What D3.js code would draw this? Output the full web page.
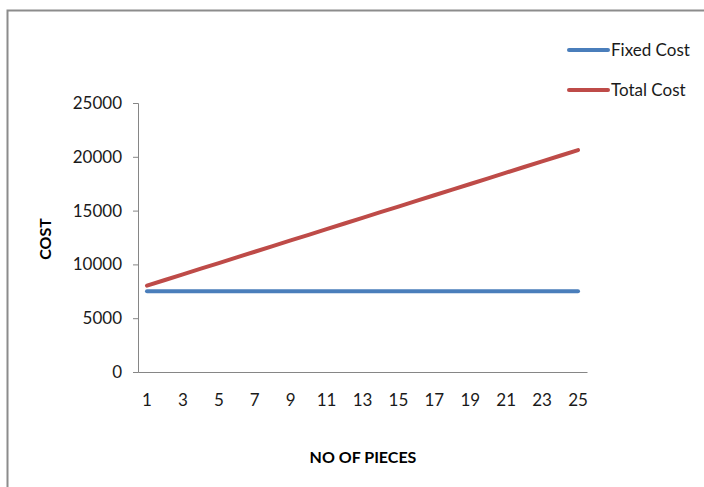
<!DOCTYPE html>
<html>
<head>
<meta charset="utf-8">
<script src="https://cdn.jsdelivr.net/npm/d3@7"></script>
<style>
  html, body { margin: 0; padding: 0; background: #fff; }
  svg { display: block; }
  text { font-family: Lato, "Open Sans", sans-serif; }
</style>
</head>
<body>
<svg id="chart" width="704" height="487"></svg>
<script>
// Number of pieces produced (category axis)
const pieces = d3.range(1, 26);
// Fixed cost stays flat over all quantities
const fixedCost = [7500, 7500, 7500, 7500, 7500, 7500, 7500, 7500, 7500, 7500, 7500, 7500, 7500,
                   7500, 7500, 7500, 7500, 7500, 7500, 7500, 7500, 7500, 7500, 7500, 7500];
// Total cost = fixed + variable cost per piece
const totalCost = [8025, 8550, 9075, 9600, 10125, 10650, 11175, 11700, 12225, 12750, 13275, 13800, 14325,
                   14850, 15375, 15900, 16425, 16950, 17475, 18000, 18525, 19050, 19575, 20100, 20625];
const yTicks = [0, 5000, 10000, 15000, 20000, 25000];
const xTickLabels = [1, 3, 5, 7, 9, 11, 13, 15, 17, 19, 21, 23, 25];
const seriesNames = ["Fixed Cost", "Total Cost"];
const seriesColors = ["#4a7ebb", "#be4b48"];

const svg = d3.select("#chart");

// Outer chart frame
svg.append("path")
  .attr("d", "M7.5,487 V10.5 H704")
  .attr("fill", "none")
  .attr("stroke", "#8c8c8c")
  .attr("stroke-width", 2);

const plot = { left: 138, right: 587, top: 103, bottom: 372 };

const x = d3.scaleBand()
  .domain(pieces)
  .range([plot.left, plot.right]);

const y = d3.scaleLinear()
  .domain([0, 25000])
  .range([plot.bottom, plot.top]);

// Y axis
const yAxis = svg.append("g")
  .attr("transform", `translate(${plot.left},0)`)
  .call(d3.axisLeft(y).tickValues(yTicks).tickSize(5).tickPadding(11).tickFormat(d3.format("d")));
yAxis.select(".domain").attr("stroke", "#868686").attr("stroke-width", 1);
yAxis.selectAll(".tick line").attr("stroke", "#868686");
yAxis.selectAll(".tick text")
  .attr("fill", "#1a1a1a")
  .style("font-size", "17px")
  .style("font-family", "Lato, sans-serif");

// X axis (category labels on every other piece count)
const xAxis = svg.append("g")
  .attr("transform", `translate(0,${plot.bottom})`)
  .call(d3.axisBottom(x).tickValues(xTickLabels).tickSize(0).tickPadding(22).tickSizeOuter(0));
xAxis.select(".domain").attr("stroke", "#868686").attr("stroke-width", 1);
xAxis.selectAll(".tick text")
  .attr("fill", "#1a1a1a")
  .style("font-size", "17px")
  .style("font-family", "Lato, sans-serif");

// Axis titles
svg.append("text")
  .attr("x", 363)
  .attr("y", 463)
  .attr("text-anchor", "middle")
  .attr("fill", "#000")
  .style("font-size", "16px")
  .style("font-weight", "bold")
  .text("NO OF PIECES");

svg.append("text")
  .attr("transform", "translate(51,239) rotate(-90)")
  .attr("text-anchor", "middle")
  .attr("fill", "#000")
  .style("font-size", "16px")
  .style("font-weight", "bold")
  .text("COST");

// Series lines
const line = d3.line()
  .x((d, i) => x(pieces[i]) + x.bandwidth() / 2)
  .y(d => y(d));

[fixedCost, totalCost].forEach((vals, k) => {
  svg.append("path")
    .datum(vals)
    .attr("fill", "none")
    .attr("stroke", seriesColors[k])
    .attr("stroke-width", 4)
    .attr("stroke-linecap", "round")
    .attr("stroke-linejoin", "round")
    .attr("d", line);
});

// Legend
const legend = svg.append("g");
seriesNames.forEach((name, k) => {
  const ly = 50 + k * 40;
  legend.append("line")
    .attr("x1", 569).attr("x2", 608)
    .attr("y1", ly).attr("y2", ly)
    .attr("stroke", seriesColors[k])
    .attr("stroke-width", 4)
    .attr("stroke-linecap", "round");
  legend.append("text")
    .attr("x", 611)
    .attr("y", ly + 6)
    .attr("fill", "#1a1a1a")
    .style("font-size", "17px")
    .text(name);
});
</script>
</body>
</html>
